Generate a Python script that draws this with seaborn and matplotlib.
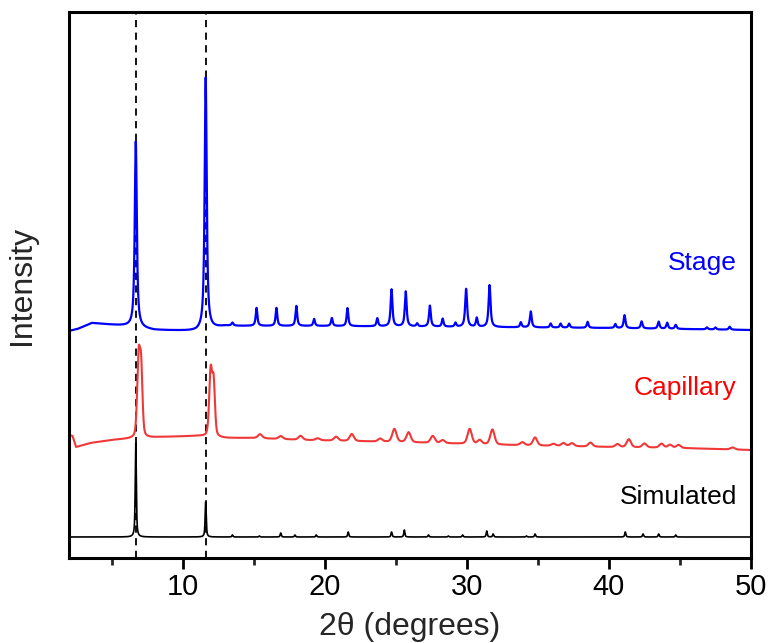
import numpy as np
import pandas as pd
import matplotlib
matplotlib.use("Agg")
import matplotlib.pyplot as plt
import seaborn as sns
from matplotlib.ticker import MultipleLocator

# ---------------- data ----------------
# Peak lists: position (2theta, deg), height (a.u.), FWHM (deg)
stage_pos = [6.70, 11.62, 13.5, 15.2, 16.6, 18.0, 19.25, 20.5, 21.6, 23.7, 24.7, 25.7, 26.5,
             27.4, 28.3, 29.2, 29.95, 30.7, 31.6, 33.8, 34.5, 35.9, 36.6, 37.2, 38.5,
             40.45, 41.1, 42.3, 43.5, 44.1, 44.7, 46.9, 47.5, 48.5]
stage_h = [186, 252, 3, 18, 18, 20, 7, 8, 18, 8, 37, 35, 3,
           21, 8, 4, 38, 9, 42, 5, 16, 4, 4, 4, 6,
           4, 13, 7, 7, 6, 4, 2, 2, 3]
stage_w = [0.17, 0.17, 0.15, 0.14, 0.14, 0.14, 0.14, 0.14, 0.14, 0.14, 0.15, 0.15, 0.14,
           0.15, 0.14, 0.14, 0.16, 0.14, 0.16, 0.14, 0.15, 0.14, 0.14, 0.14, 0.14,
           0.14, 0.15, 0.15, 0.15, 0.15, 0.15, 0.15, 0.15, 0.15]
stage_base_x = [2.0, 2.6, 3.3, 3.6, 6.0, 8.0, 11.0, 13.0, 20.0, 30.0, 40.0, 50.0]
stage_base_y = [227, 229, 233, 235, 232, 228, 227, 232, 232, 231, 230, 228]

cap_pos = [6.90, 7.08, 11.97, 12.18, 15.45, 16.9, 18.3, 19.5, 20.8, 21.9, 23.9, 24.9, 25.9,
           27.6, 28.3, 30.2, 30.9, 31.8, 33.9, 34.8, 36.1, 36.8, 37.4, 38.7, 40.6,
           41.4, 42.5, 43.7, 44.3, 44.9, 48.7]
cap_h = [78, 64, 65, 52, 4, 3, 4, 2, 4, 7, 3, 13, 10,
         7, 3, 15, 4, 15, 3, 8, 2, 3, 3, 4, 3,
         8, 4, 4, 3, 3, 2]
cap_w = [0.24, 0.22, 0.24, 0.22, 0.35, 0.35, 0.35, 0.35, 0.35, 0.35, 0.35, 0.35, 0.35,
         0.35, 0.35, 0.35, 0.35, 0.35, 0.35, 0.35, 0.35, 0.35, 0.35, 0.35, 0.35,
         0.35, 0.35, 0.35, 0.35, 0.35, 0.35]
cap_base_x = [2.0, 2.25, 2.5, 3.5, 5.0, 6.0, 8.5, 11.0, 13.0, 15.0, 18.5, 25.0, 33.0, 40.0, 45.0, 50.0]
cap_base_y = [123, 122, 111, 115, 118, 119, 121, 122, 120, 120, 118, 116, 113, 111, 110, 108]

sim_pos = [6.70, 11.62, 13.5, 15.4, 16.9, 17.9, 19.4, 21.65, 24.7, 25.6, 27.3, 28.7, 29.7,
           31.4, 31.85, 34.2, 34.8, 41.15, 42.4, 43.5, 44.7]
sim_h = [94, 35, 2, 1, 4, 2, 2, 5, 5, 7, 2, 1, 2,
         6, 3, 1, 3, 5, 3, 3, 2]
sim_w = [0.09] * 21
sim_base_x = [2.0, 50.0]
sim_base_y = [21, 21]

dash_x = [6.70, 11.62]

labels = ["Stage", "Capillary", "Simulated"]
label_y = [295, 170, 61]
colors = {"Stage": "#0000ff", "Capillary": "#f03838", "Simulated": "#000000"}
text_colors = {"Stage": "#0000ff", "Capillary": "#ff0000", "Simulated": "#000000"}

# ---------------- build curves ----------------
x = np.arange(2.0, 50.0001, 0.01)


def pattern(pos, h, w, bx, by, eta):
    y = np.interp(x, bx, by).astype(float)
    for p, a, f in zip(pos, h, w):
        g = f / 2.0
        lor = 1.0 / (1.0 + ((x - p) / g) ** 2)
        gau = np.exp(-np.log(2) * ((x - p) / g) ** 2)
        y += a * (eta * lor + (1 - eta) * gau)
    return y


frames = []
for name, args in [("Stage", (stage_pos, stage_h, stage_w, stage_base_x, stage_base_y, 0.85)),
                   ("Capillary", (cap_pos, cap_h, cap_w, cap_base_x, cap_base_y, 0.35)),
                   ("Simulated", (sim_pos, sim_h, sim_w, sim_base_x, sim_base_y, 0.7))]:
    frames.append(pd.DataFrame({"x": x, "y": pattern(*args), "trace": name}))
df = pd.concat(frames, ignore_index=True)

# ---------------- plot ----------------
sns.set_theme(style="white")
plt.rcParams["font.family"] = ["Liberation Sans", "DejaVu Sans"]

fig = plt.figure(figsize=(7.7, 6.43), dpi=100)
ax = fig.add_axes([69 / 770, 1 - 558 / 643, (751 - 69) / 770, (558 - 12) / 643])

widths = {"Stage": 1.6, "Capillary": 1.5, "Simulated": 1.2}
for name in labels:
    sub = df[df["trace"] == name]
    sns.lineplot(data=sub, x="x", y="y", ax=ax, color=colors[name],
                 linewidth=widths[name], estimator=None, sort=False, legend=False)

for dx in dash_x:
    ax.axvline(dx, color="black", linestyle=(0, (4, 3)), linewidth=1.3, zorder=0)

for name, ly in zip(labels, label_y):
    ax.text(49.0, ly, name, color=text_colors[name], fontsize=19,
            ha="right", va="center")

ax.set_xlim(2, 50)
ax.set_ylim(0, 546)
ax.set_yticks([])
ax.xaxis.set_major_locator(MultipleLocator(10))
ax.xaxis.set_minor_locator(MultipleLocator(5))
ax.tick_params(axis="x", which="major", direction="out", length=8, width=2,
               labelsize=21, pad=3, bottom=True, colors="black")
ax.tick_params(axis="x", which="minor", direction="out", length=5, width=2, bottom=True)
ax.set_xlabel("2\u03b8 (degrees)", fontsize=23, labelpad=8)
ax.set_ylabel("Intensity", fontsize=23, labelpad=23)
for s in ax.spines.values():
    s.set_linewidth(2.2)
    s.set_color("black")
    s.set_visible(True)

fig.savefig("out.png", dpi=100)
